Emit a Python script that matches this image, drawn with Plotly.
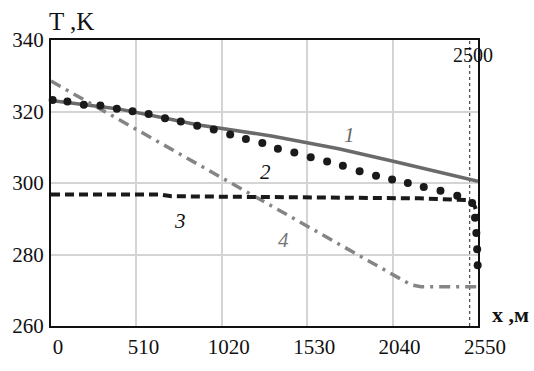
import plotly.graph_objects as go

# Curve 1 (solid gray)
x1 = [0, 393, 677, 873, 1325, 1718, 2050, 2307, 2550]
t1 = [323.1, 320.8, 318.2, 316.3, 313.1, 309.6, 306.0, 303.3, 300.5]

# Curve 2 (dotted black)
x2 = [10, 98, 196, 295, 393, 487, 583, 681, 775, 873, 972, 1070, 1164, 1262,
      1355, 1453, 1551, 1649, 1743, 1843, 1941, 2037, 2131, 2226, 2326, 2426,
      2515, 2532, 2540, 2545, 2548]
t2 = [323.2, 322.8, 321.9, 321.7, 320.8, 320.1, 319.3, 318.1, 317.2, 316.0,
      315.0, 313.6, 312.3, 311.2, 309.6, 308.5, 307.2, 306.0, 304.8, 303.3,
      302.0, 301.0, 300.0, 298.9, 297.8, 296.4, 294.4, 290.3, 286.0, 281.5, 277.0]

# Curve 3 (dashed black)
x3 = [0, 650, 720, 1500, 2200, 2485, 2530, 2550]
t3 = [296.8, 296.8, 296.3, 296.1, 295.7, 295.2, 293.5, 291.0]

# Curve 4 (dash-dot gray)
x4 = [0, 1207, 2150, 2210, 2550]
t4 = [328.5, 296.5, 271.5, 271.0, 271.0]

# Vertical marker line
xv = [2500, 2500]
tv = [260, 340]

x_ticks = [0, 510, 1020, 1530, 2040, 2550]
y_ticks = [260, 280, 300, 320, 340]

curve_labels = ["1", "2", "3", "4"]
label_x = [1780, 1280, 770, 1390]
label_t = [313.5, 303.0, 289.5, 284.0]
label_colors = ["#666666", "#111111", "#111111", "#777777"]

SERIF = "Liberation Serif, Times New Roman, serif"

fig = go.Figure()
fig.add_trace(go.Scatter(x=xv, y=tv, mode="lines",
                         line=dict(color="#555555", width=1.3, dash="3px,3px"),
                         showlegend=False, hoverinfo="skip"))
fig.add_trace(go.Scatter(x=x1, y=t1, mode="lines",
                         line=dict(color="#6a6a6a", width=3.5),
                         showlegend=False))
fig.add_trace(go.Scatter(x=x4, y=t4, mode="lines",
                         line=dict(color="#858585", width=3.5, dash="11px,6px,3px,6px"),
                         showlegend=False))
fig.add_trace(go.Scatter(x=x3, y=t3, mode="lines",
                         line=dict(color="#1a1a1a", width=4, dash="9px,5px"),
                         showlegend=False))
fig.add_trace(go.Scatter(x=x2, y=t2, mode="markers",
                         marker=dict(color="#1a1a1a", size=8),
                         cliponaxis=False, showlegend=False))

for lab, lx, lt, lc in zip(curve_labels, label_x, label_t, label_colors):
    fig.add_annotation(x=lx, y=lt, text="<i>" + lab + "</i>", showarrow=False,
                       font=dict(family=SERIF, size=21, color=lc))

fig.add_annotation(x=xv[0], y=tv[1], text="2500", showarrow=False,
                   xanchor="center", yanchor="top", xshift=3, yshift=-2,
                   font=dict(family=SERIF, size=20, color="#111111"))
fig.add_annotation(x=0, y=1, xref="paper", yref="paper", text="T ,K",
                   showarrow=False, xanchor="left", yanchor="bottom",
                   xshift=-4, yshift=3,
                   font=dict(family=SERIF, size=25, color="#111111"))
fig.add_annotation(x=1, y=0, xref="paper", yref="paper", text="<b>x ,м</b>",
                   showarrow=False, xanchor="left", yanchor="bottom",
                   xshift=12, yshift=-3,
                   font=dict(family=SERIF, size=22, color="#111111"))

fig.update_xaxes(range=[0, 2550], tickvals=x_ticks, ticktext=[str(v) for v in x_ticks],
                 showgrid=True, gridcolor="#d4d4d4", gridwidth=1.5,
                 showline=True, linecolor="#111111", linewidth=2, mirror=True,
                 ticks="", zeroline=False, ticklabelshift=7, ticklabelstandoff=1,
                 tickfont=dict(family=SERIF, size=21, color="#111111"))
fig.update_yaxes(range=[260, 340], tickvals=y_ticks, ticktext=[str(v) for v in y_ticks],
                 showgrid=True, gridcolor="#d4d4d4", gridwidth=1.5,
                 showline=True, linecolor="#111111", linewidth=2, mirror=True,
                 ticks="", zeroline=False, ticklabelstandoff=1,
                 tickfont=dict(family=SERIF, size=21, color="#111111"))

fig.update_layout(width=534, height=371,
                  margin=dict(l=45, r=56, t=40, b=33),
                  paper_bgcolor="white", plot_bgcolor="white",
                  showlegend=False)

fig.write_html("out.html")
